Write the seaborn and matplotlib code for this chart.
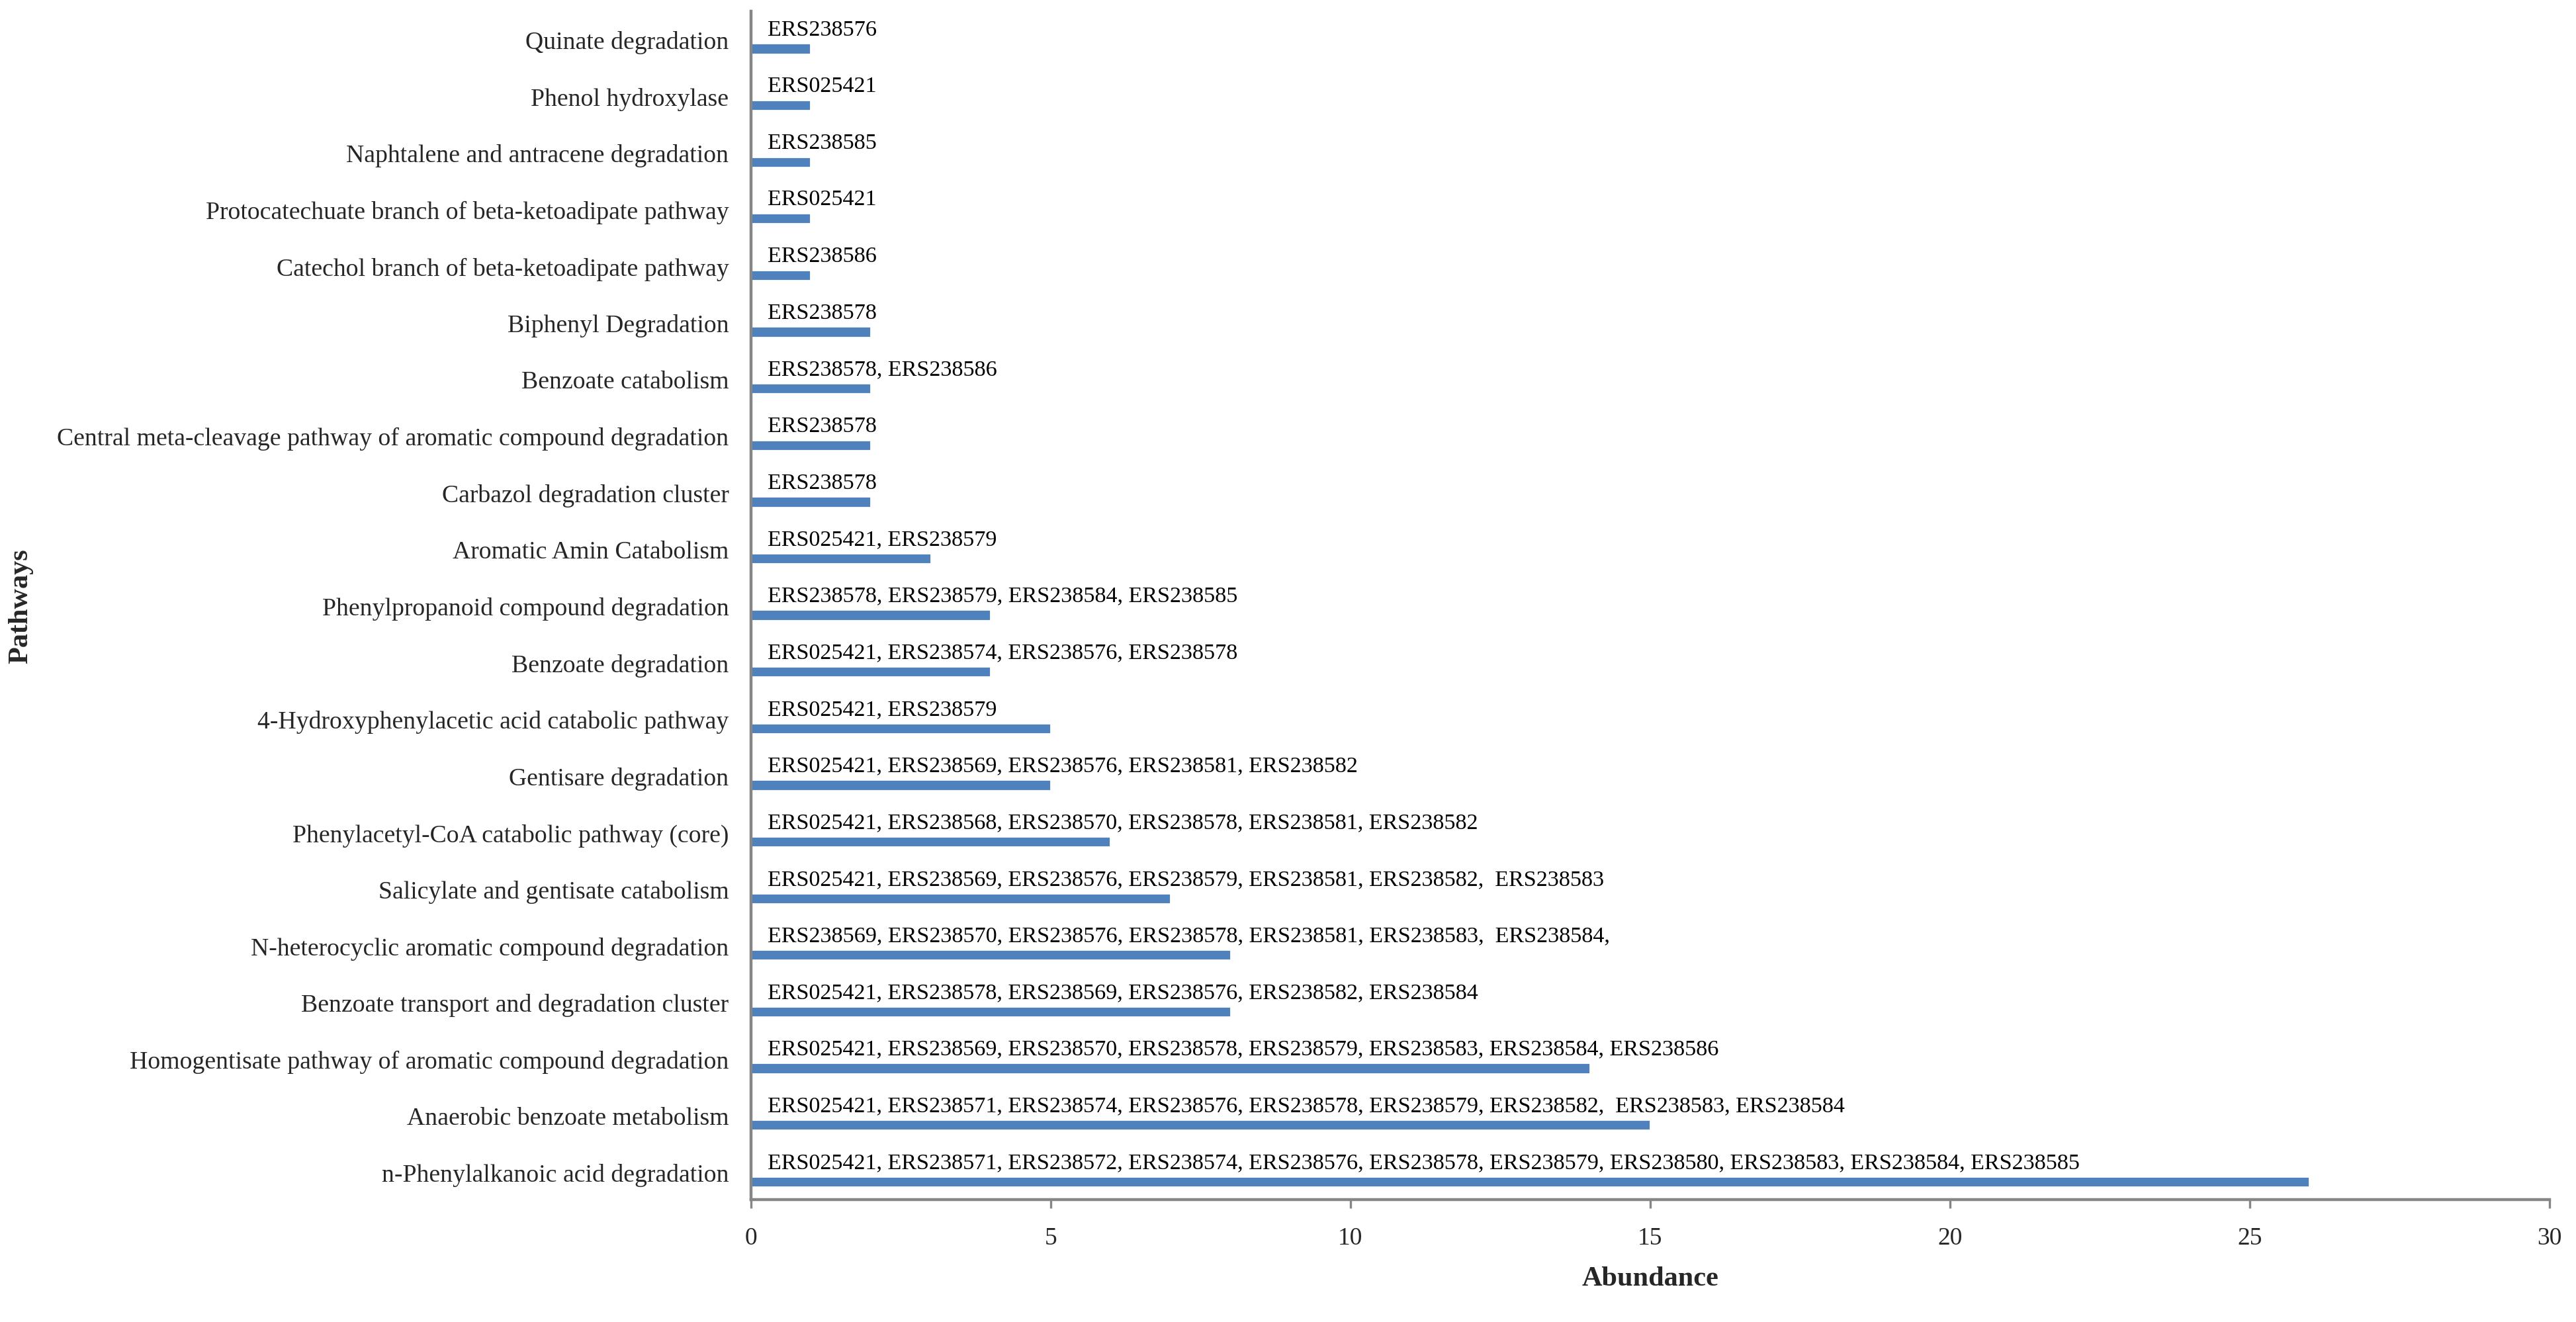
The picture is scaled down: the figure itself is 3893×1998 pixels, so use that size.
import seaborn as sns
import pandas as pd
import matplotlib.pyplot as plt
import matplotlib.transforms as mtrans

sns.set_theme(style="white")
plt.rcParams['font.family'] = ['Liberation Serif', 'DejaVu Serif']

pathways = [
    "Quinate degradation",
    "Phenol hydroxylase",
    "Naphtalene and antracene degradation",
    "Protocatechuate branch of beta-ketoadipate pathway",
    "Catechol branch of beta-ketoadipate pathway",
    "Biphenyl Degradation",
    "Benzoate catabolism",
    "Central meta-cleavage pathway of aromatic compound degradation",
    "Carbazol degradation cluster",
    "Aromatic Amin Catabolism",
    "Phenylpropanoid compound degradation",
    "Benzoate degradation",
    "4-Hydroxyphenylacetic acid catabolic pathway",
    "Gentisare degradation",
    "Phenylacetyl-CoA catabolic pathway (core)",
    "Salicylate and gentisate catabolism",
    "N-heterocyclic aromatic compound degradation",
    "Benzoate transport and degradation cluster",
    "Homogentisate pathway of aromatic compound degradation",
    "Anaerobic benzoate metabolism",
    "n-Phenylalkanoic acid degradation",
]
abundance = [1, 1, 1, 1, 1, 2, 2, 2, 2, 3, 4, 4, 5, 5, 6, 7, 8, 8, 14, 15, 26]
samples = [
    "ERS238576",
    "ERS025421",
    "ERS238585",
    "ERS025421",
    "ERS238586",
    "ERS238578",
    "ERS238578, ERS238586",
    "ERS238578",
    "ERS238578",
    "ERS025421, ERS238579",
    "ERS238578, ERS238579, ERS238584, ERS238585",
    "ERS025421, ERS238574, ERS238576, ERS238578",
    "ERS025421, ERS238579",
    "ERS025421, ERS238569, ERS238576, ERS238581, ERS238582",
    "ERS025421, ERS238568, ERS238570, ERS238578, ERS238581, ERS238582",
    "ERS025421, ERS238569, ERS238576, ERS238579, ERS238581, ERS238582,  ERS238583",
    "ERS238569, ERS238570, ERS238576, ERS238578, ERS238581, ERS238583,  ERS238584,",
    "ERS025421, ERS238578, ERS238569, ERS238576, ERS238582, ERS238584",
    "ERS025421, ERS238569, ERS238570, ERS238578, ERS238579, ERS238583, ERS238584, ERS238586",
    "ERS025421, ERS238571, ERS238574, ERS238576, ERS238578, ERS238579, ERS238582,  ERS238583, ERS238584",
    "ERS025421, ERS238571, ERS238572, ERS238574, ERS238576, ERS238578, ERS238579, ERS238580, ERS238583, ERS238584, ERS238585",
]

df = pd.DataFrame({"Pathways": pathways, "Abundance": abundance, "Samples": samples})

fig = plt.figure(figsize=(19.465, 9.995), dpi=200)
ax = fig.add_axes([0.2915, 0.0925, 0.6982, 0.8985])

sns.barplot(data=df, x="Abundance", y="Pathways", orient="h", color="#4F81BD",
            saturation=1, width=0.19, ax=ax)

# sample names written above each bar
for i, txt in enumerate(df["Samples"]):
    ax.text(0.28, i - 0.34, txt, va="center", ha="left", fontsize=12.3, color="black")

ax.set_xlim(0, 30)
ax.set_xticks(range(0, 31, 5))
ax.set_ylim(20.32, -0.66)

ax.set_xlabel("Abundance", fontsize=15.2, fontweight="bold", labelpad=9)
ax.set_ylabel("Pathways", fontsize=15.2, fontweight="bold", labelpad=0)
ax.yaxis.set_label_coords(-0.399, 0.5)

for s in ["top", "right"]:
    ax.spines[s].set_visible(False)
for s in ["left", "bottom"]:
    ax.spines[s].set_color("#868686")
    ax.spines[s].set_linewidth(1.6)

ax.tick_params(axis="x", direction="out", length=4.7, width=1.2, color="#868686",
               pad=10, labelsize=13.5, bottom=True)
ax.tick_params(axis="y", length=0, pad=12, labelsize=13.6)

shift = mtrans.ScaledTranslation(0, 14 / 200, fig.dpi_scale_trans)
for lab in ax.get_yticklabels():
    lab.set_transform(lab.get_transform() + shift)

fig.savefig("out.png", dpi=200, facecolor="white")
